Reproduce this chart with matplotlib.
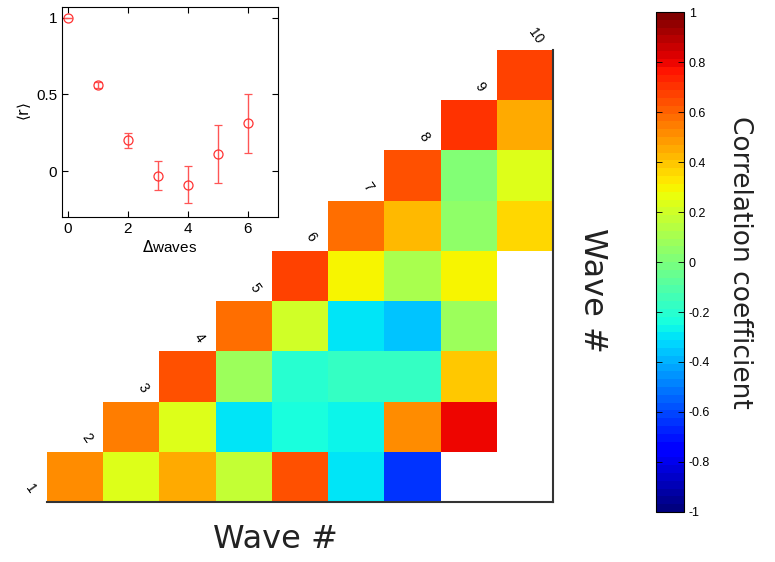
import numpy as np
import matplotlib
matplotlib.use("Agg")
import matplotlib.pyplot as plt

# correlation between wave i (row) and wave j (column), j > i; nan = no data
wave_labels = [str(i) for i in range(1, 11)]
row_w1 = [0.52, 0.23, 0.45, 0.17, 0.65, -0.29, -0.64, np.nan, np.nan]
row_w2 = [np.nan, 0.545, 0.23, -0.29, -0.23, -0.26, 0.53, 0.79, np.nan]
row_w3 = [np.nan, np.nan, 0.64, 0.08, -0.20, -0.16, -0.16, 0.39, np.nan]
row_w4 = [np.nan, np.nan, np.nan, 0.58, 0.20, -0.29, -0.36, 0.09, np.nan]
row_w5 = [np.nan, np.nan, np.nan, np.nan, 0.68, 0.31, 0.10, 0.30, np.nan]
row_w6 = [np.nan, np.nan, np.nan, np.nan, np.nan, 0.58, 0.42, 0.04, 0.36]
row_w7 = [np.nan, np.nan, np.nan, np.nan, np.nan, np.nan, 0.64, 0.0, 0.23]
row_w8 = [np.nan, np.nan, np.nan, np.nan, np.nan, np.nan, np.nan, 0.69, 0.45]
row_w9 = [np.nan, np.nan, np.nan, np.nan, np.nan, np.nan, np.nan, np.nan, 0.68]

# inset: mean correlation vs separation
dwaves = [0, 1, 2, 3, 4, 5, 6]
mean_r = [1.0, 0.56, 0.20, -0.03, -0.09, 0.11, 0.31]
err_r = [0.0, 0.02, 0.05, 0.095, 0.12, 0.19, 0.19]

corr = np.array([row_w1, row_w2, row_w3, row_w4, row_w5,
                 row_w6, row_w7, row_w8, row_w9])
cmap = plt.get_cmap("jet", 64)

fig = plt.figure(figsize=(7.75, 5.62), dpi=100)

# main triangular map
ax = fig.add_axes([47 / 775, 1 - 502 / 562, 506 / 775, 452 / 562])
mesh = ax.pcolormesh(np.arange(10), np.arange(10), corr, cmap=cmap,
                     vmin=-1, vmax=1, shading="flat")
ax.set_xlim(0, 9)
ax.set_ylim(0, 9)
ax.set_xticks([])
ax.set_yticks([])
ax.spines["top"].set_visible(False)
ax.spines["left"].set_visible(False)
ax.spines["bottom"].set_linewidth(1.5)
ax.spines["right"].set_linewidth(1.5)
ax.spines["bottom"].set_color("#333333")
ax.spines["right"].set_color("#333333")
for k, lab in enumerate(wave_labels):
    ax.text(k - 0.3, k + 0.27, lab, rotation=-55, ha="center", va="center",
            fontsize=10, family="Liberation Sans")
fig.text(275 / 775, 1 - 540 / 562, "Wave #", ha="center", va="center",
         fontsize=23, color="#222222")
fig.text(592 / 775, 1 - 290 / 562, "Wave #", ha="center", va="center",
         rotation=-90, fontsize=23, color="#222222")

# colorbar
cax = fig.add_axes([656 / 775, 1 - 512 / 562, 28 / 775, 500 / 562])
cb = fig.colorbar(mesh, cax=cax, ticks=np.arange(-1, 1.01, 0.2))
cb.ax.set_yticklabels(["-1", "-0.8", "-0.6", "-0.4", "-0.2", "0",
                       "0.2", "0.4", "0.6", "0.8", "1"])
cb.ax.tick_params(direction="in", left=True, right=True, length=4,
                  labelsize=9, width=0.6)
for t in cb.ax.get_yticklabels():
    t.set_family("Liberation Sans")
cb.outline.set_linewidth(0.8)
fig.text(740 / 775, 1 - 262 / 562, "Correlation coefficient", ha="center",
         va="center", rotation=-90, fontsize=19, color="#222222")

# inset
ins = fig.add_axes([62 / 775, 1 - 217 / 562, 216 / 775, 210 / 562])
ins.errorbar(dwaves, mean_r, yerr=err_r, fmt="o", mfc="none", mec="#ff3333",
             ecolor="#ff5555", ms=6.5, mew=0.9, elinewidth=1, capsize=3)
ins.set_xlim(-0.2, 7)
ins.set_ylim(-0.3, 1.07)
ins.set_xticks([0, 2, 4, 6])
ins.set_yticks([0, 0.5, 1])
ins.set_yticklabels(["0", "0.5", "1"])
ins.tick_params(direction="in", top=True, right=True, labelsize=11, length=4)
for t in ins.get_xticklabels() + ins.get_yticklabels():
    t.set_family("Liberation Sans")
ins.set_xlabel(r"$\Delta$waves", fontsize=11, family="Liberation Sans",
               labelpad=2)
ins.set_ylabel(r"$\langle\mathrm{r}\rangle$", fontsize=11, labelpad=2)

fig.savefig("out.png", dpi=100)
